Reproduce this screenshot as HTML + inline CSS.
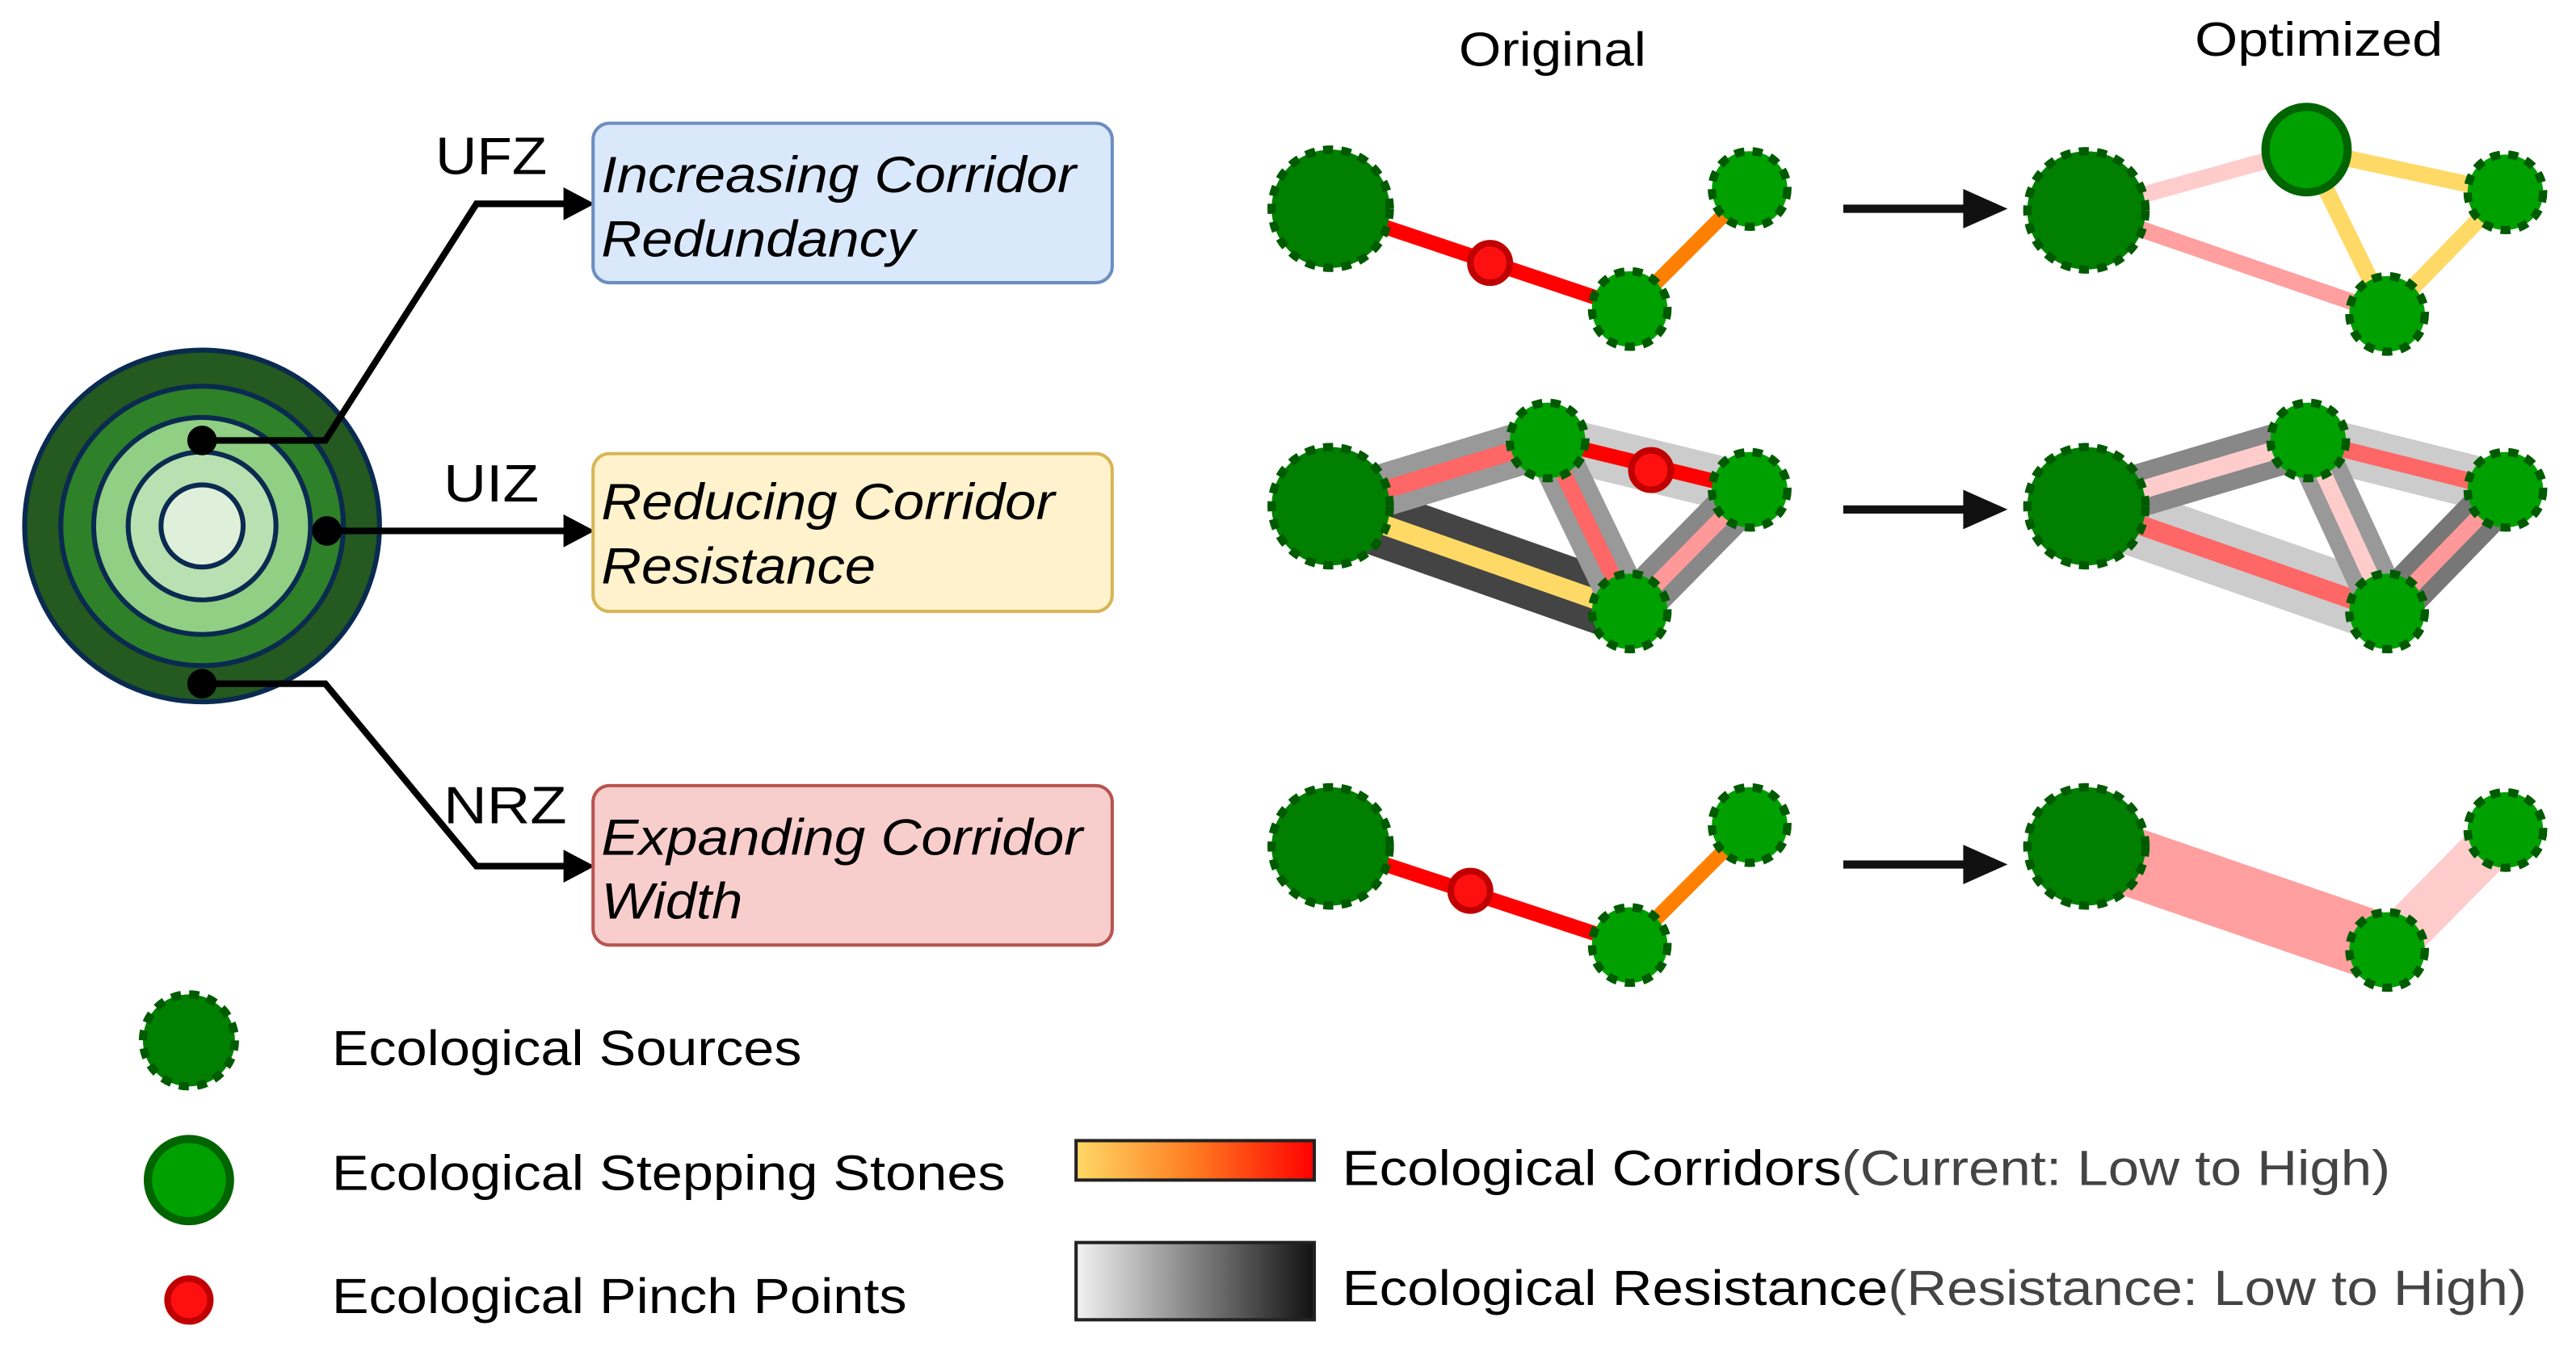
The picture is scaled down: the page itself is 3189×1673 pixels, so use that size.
<!DOCTYPE html>
<html><head><meta charset="utf-8"><style>
html,body{margin:0;padding:0;background:#fff;}
svg{display:block;}
text{font-family:"Liberation Sans",Arial,sans-serif;}
</style></head><body>
<svg width="3189" height="1673" viewBox="0 0 1568 822" preserveAspectRatio="none" xmlns="http://www.w3.org/2000/svg">
<defs>
<linearGradient id="gc" x1="0" x2="1"><stop offset="0" stop-color="#ffd966"/><stop offset="0.5" stop-color="#ff7a20"/><stop offset="1" stop-color="#ff0000"/></linearGradient>
<linearGradient id="gr" x1="0" x2="1"><stop offset="0" stop-color="#f2f2f2"/><stop offset="1" stop-color="#111"/></linearGradient>
</defs>

<!-- concentric -->
<g stroke="#0a2a50" stroke-width="3">
<ellipse cx="123" cy="320" rx="108" ry="107" fill="#24591f"/>
<ellipse cx="123" cy="320" rx="86" ry="85" fill="#2e8029"/>
<ellipse cx="123" cy="320" rx="66" ry="66" fill="#90cf84"/>
<ellipse cx="123" cy="320" rx="45" ry="45" fill="#b9e0b1"/>
<ellipse cx="123" cy="320" rx="25" ry="25" fill="#dff0da"/>
</g>
<g stroke="#000" stroke-width="4" fill="none">
<polyline points="123,268 198,268 290,124 350,124"/>
<polyline points="199,323 350,323"/>
<polyline points="123,416 198,416 290,527 350,527"/>
</g>
<g fill="#000">
<path d="M343,114 L362,124 L343,134 z"/><path d="M343,313 L362,323 L343,333 z"/><path d="M343,517 L362,527 L343,537 z"/>
<circle cx="123" cy="268" r="9"/><circle cx="199" cy="323" r="9"/><circle cx="123" cy="416" r="9"/>
</g>
<g font-size="32" fill="#000" lengthAdjust="spacingAndGlyphs">
<text x="265" y="106" textLength="68" lengthAdjust="spacingAndGlyphs">UFZ</text>
<text x="270" y="305" textLength="58" lengthAdjust="spacingAndGlyphs">UIZ</text>
<text x="270" y="501" textLength="75" lengthAdjust="spacingAndGlyphs">NRZ</text>
</g>
<rect x="361" y="75" width="316" height="97" rx="10" fill="#dae8fc" stroke="#6c8ebf" stroke-width="2"/>
<rect x="361" y="276" width="316" height="96" rx="10" fill="#fff2cc" stroke="#d6b656" stroke-width="2"/>
<rect x="361" y="478" width="316" height="97" rx="10" fill="#f8cecc" stroke="#b85450" stroke-width="2"/>
<g font-size="31" font-style="italic" fill="#000">
<text x="366" y="117" textLength="289" lengthAdjust="spacingAndGlyphs">Increasing Corridor</text>
<text x="366" y="156" textLength="191" lengthAdjust="spacingAndGlyphs">Redundancy</text>
<text x="366" y="316" textLength="276" lengthAdjust="spacingAndGlyphs">Reducing Corridor</text>
<text x="366" y="355" textLength="167" lengthAdjust="spacingAndGlyphs">Resistance</text>
<text x="366" y="520" textLength="293" lengthAdjust="spacingAndGlyphs">Expanding Corridor</text>
<text x="366" y="559" textLength="86" lengthAdjust="spacingAndGlyphs">Width</text>
</g>

<text x="888" y="40" font-size="29" textLength="114" lengthAdjust="spacingAndGlyphs">Original</text>
<text x="1336" y="34" font-size="29" textLength="151" lengthAdjust="spacingAndGlyphs">Optimized</text>

<!-- arrows -->
<g stroke="#111" stroke-width="5"><line x1="1122" y1="127" x2="1200" y2="127"/><line x1="1122" y1="310" x2="1200" y2="310"/><line x1="1122" y1="526" x2="1200" y2="526"/></g>
<g fill="#111"><path d="M1195,115 L1222,127 L1195,139z"/><path d="M1195,298 L1222,310 L1195,322z"/><path d="M1195,514 L1222,526 L1195,538z"/></g>

<!-- row1 original -->
<line x1="810" y1="127" x2="992" y2="188" stroke="#ff0000" stroke-width="9"/>
<line x1="992" y1="188" x2="1065" y2="115" stroke="#ff8000" stroke-width="9"/>
<!-- row1 optimized -->
<line x1="1270" y1="128" x2="1404" y2="91" stroke="#ffcccc" stroke-width="10"/>
<line x1="1270" y1="128" x2="1453" y2="191" stroke="#ff9f9f" stroke-width="10"/>
<g stroke="#ffd966" stroke-width="10"><line x1="1404" y1="91" x2="1525" y2="117"/><line x1="1404" y1="91" x2="1453" y2="191"/><line x1="1525" y1="117" x2="1453" y2="191"/></g>

<!-- row2 original -->
<line x1="810" y1="308" x2="992" y2="372" stroke="#444" stroke-width="40"/>
<line x1="810" y1="308" x2="992" y2="372" stroke="#ffd966" stroke-width="12"/>
<line x1="810" y1="308" x2="942" y2="268" stroke="#999" stroke-width="32"/>
<line x1="810" y1="308" x2="942" y2="268" stroke="#ff6666" stroke-width="11"/>
<line x1="942" y1="268" x2="1065" y2="298" stroke="#ccc" stroke-width="32"/>
<line x1="942" y1="268" x2="1065" y2="298" stroke="#ff0000" stroke-width="9"/>
<line x1="942" y1="268" x2="992" y2="372" stroke="#999" stroke-width="30"/>
<line x1="942" y1="268" x2="992" y2="372" stroke="#ff6666" stroke-width="10"/>
<line x1="1065" y1="298" x2="992" y2="372" stroke="#888" stroke-width="30"/>
<line x1="1065" y1="298" x2="992" y2="372" stroke="#ff9999" stroke-width="10"/>
<!-- row2 optimized -->
<line x1="1270" y1="308" x2="1453" y2="372" stroke="#ccc" stroke-width="40"/>
<line x1="1270" y1="308" x2="1453" y2="372" stroke="#ff6666" stroke-width="12"/>
<line x1="1270" y1="308" x2="1405" y2="268" stroke="#888" stroke-width="32"/>
<line x1="1270" y1="308" x2="1405" y2="268" stroke="#ffcccc" stroke-width="11"/>
<line x1="1405" y1="268" x2="1525" y2="298" stroke="#ccc" stroke-width="32"/>
<line x1="1405" y1="268" x2="1525" y2="298" stroke="#ff6666" stroke-width="10"/>
<line x1="1405" y1="268" x2="1453" y2="372" stroke="#999" stroke-width="30"/>
<line x1="1405" y1="268" x2="1453" y2="372" stroke="#ffcccc" stroke-width="10"/>
<line x1="1525" y1="298" x2="1453" y2="372" stroke="#777" stroke-width="30"/>
<line x1="1525" y1="298" x2="1453" y2="372" stroke="#ff9999" stroke-width="10"/>

<!-- row3 -->
<line x1="810" y1="515" x2="992" y2="575" stroke="#ff0000" stroke-width="9"/>
<line x1="992" y1="575" x2="1065" y2="502" stroke="#ff8000" stroke-width="9"/>
<line x1="1270" y1="515" x2="1453" y2="578" stroke="#ff9f9f" stroke-width="42"/>
<line x1="1453" y1="578" x2="1525" y2="505" stroke="#ffcccc" stroke-width="30"/>

<!-- nodes -->
<g stroke="#005a00" stroke-width="5" stroke-dasharray="6 5">
<circle cx="810" cy="127" r="36" fill="#007f00"/><circle cx="1065" cy="115" r="23" fill="#00a000"/><circle cx="992" cy="188" r="23" fill="#00a000"/>
<circle cx="1270" cy="128" r="36" fill="#007f00"/><circle cx="1525" cy="117" r="23" fill="#00a000"/><circle cx="1453" cy="191" r="23" fill="#00a000"/>
<circle cx="810" cy="308" r="36" fill="#007f00"/><circle cx="942" cy="268" r="23" fill="#00a000"/><circle cx="1065" cy="298" r="23" fill="#00a000"/><circle cx="992" cy="372" r="23" fill="#00a000"/>
<circle cx="1270" cy="308" r="36" fill="#007f00"/><circle cx="1405" cy="268" r="23" fill="#00a000"/><circle cx="1525" cy="298" r="23" fill="#00a000"/><circle cx="1453" cy="372" r="23" fill="#00a000"/>
<circle cx="810" cy="515" r="36" fill="#007f00"/><circle cx="1065" cy="502" r="23" fill="#00a000"/><circle cx="992" cy="575" r="23" fill="#00a000"/>
<circle cx="1270" cy="515" r="36" fill="#007f00"/><circle cx="1525" cy="505" r="23" fill="#00a000"/><circle cx="1453" cy="578" r="23" fill="#00a000"/>
<circle cx="115" cy="633" r="28" fill="#007f00"/>
</g>
<ellipse cx="1404" cy="91" rx="25" ry="26" fill="#00a000" stroke="#006400" stroke-width="5"/>
<g fill="#ff1010" stroke="#c00000" stroke-width="4">
<circle cx="907" cy="160" r="12"/><circle cx="1005" cy="286" r="12"/><circle cx="895" cy="542" r="12"/><circle cx="115" cy="791" r="13"/>
</g>
<circle cx="115" cy="718" r="25" fill="#00a000" stroke="#006400" stroke-width="5"/>

<!-- legend -->
<g font-size="30" fill="#000">
<text x="202" y="648" textLength="286" lengthAdjust="spacingAndGlyphs">Ecological Sources</text>
<text x="202" y="724" textLength="410" lengthAdjust="spacingAndGlyphs">Ecological Stepping Stones</text>
<text x="202" y="799" textLength="350" lengthAdjust="spacingAndGlyphs">Ecological Pinch Points</text>
<text x="817" y="721" textLength="638" lengthAdjust="spacingAndGlyphs">Ecological Corridors<tspan fill="#444">(Current: Low to High)</tspan></text>
<text x="817" y="794" textLength="721" lengthAdjust="spacingAndGlyphs">Ecological Resistance<tspan fill="#444">(Resistance: Low to High)</tspan></text>
</g>
<rect x="655" y="694" width="145" height="24" fill="url(#gc)" stroke="#222" stroke-width="2"/>
<rect x="655" y="756" width="145" height="47" fill="url(#gr)" stroke="#222" stroke-width="2"/>
</svg>
</body></html>
